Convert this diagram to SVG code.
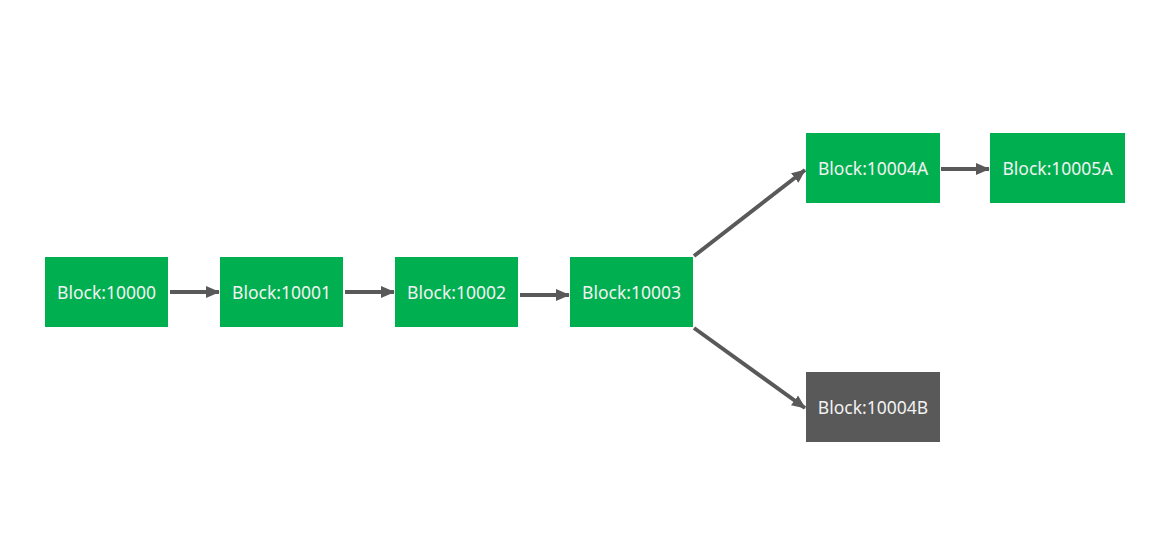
<svg xmlns="http://www.w3.org/2000/svg" width="1153" height="546" viewBox="0 0 1153 546">
<style>
.g{fill:#00b050}
.d{fill:#595959}
.t{font-family:"Noto Sans","Liberation Sans",sans-serif;font-size:17.5px;fill:#f2f2f2;text-anchor:middle}
.c{stroke:#595959;stroke-width:4;fill:none;marker-end:url(#ah)}
</style>
<defs>
<marker id="ah" markerUnits="userSpaceOnUse" markerWidth="14" markerHeight="14" refX="13" refY="7" orient="auto" viewBox="0 0 14 14">
<path d="M0,1 L14,7 L0,13 Z" fill="#595959"/>
</marker>
</defs>
<rect width="1153" height="546" fill="#ffffff"/>
<g id="connectors">
<line class="c" x1="170" y1="292" x2="219" y2="292"/>
<line class="c" x1="345" y1="292" x2="394" y2="292"/>
<line class="c" x1="520" y1="295" x2="569" y2="295"/>
<line class="c" x1="694" y1="256" x2="805" y2="170"/>
<line class="c" x1="694" y1="328" x2="805" y2="408"/>
<line class="c" x1="941" y1="169" x2="989" y2="169"/>
</g>
<g id="b10000"><rect class="g" x="45" y="257" width="123" height="70"/><text class="t" x="106.5" y="299">Block:10000</text></g>
<g id="b10001"><rect class="g" x="220" y="257" width="123" height="70"/><text class="t" x="281.5" y="299">Block:10001</text></g>
<g id="b10002"><rect class="g" x="395" y="257" width="123" height="70"/><text class="t" x="456.5" y="299">Block:10002</text></g>
<g id="b10003"><rect class="g" x="570" y="257" width="123" height="70"/><text class="t" x="631.5" y="299">Block:10003</text></g>
<g id="b10004A"><rect class="g" x="806" y="133" width="134" height="70"/><text class="t" x="873" y="175">Block:10004A</text></g>
<g id="b10005A"><rect class="g" x="990" y="133" width="135" height="70"/><text class="t" x="1057.5" y="175">Block:10005A</text></g>
<g id="b10004B"><rect class="d" x="806" y="372" width="134" height="70"/><text class="t" x="873" y="414">Block:10004B</text></g>
</svg>
